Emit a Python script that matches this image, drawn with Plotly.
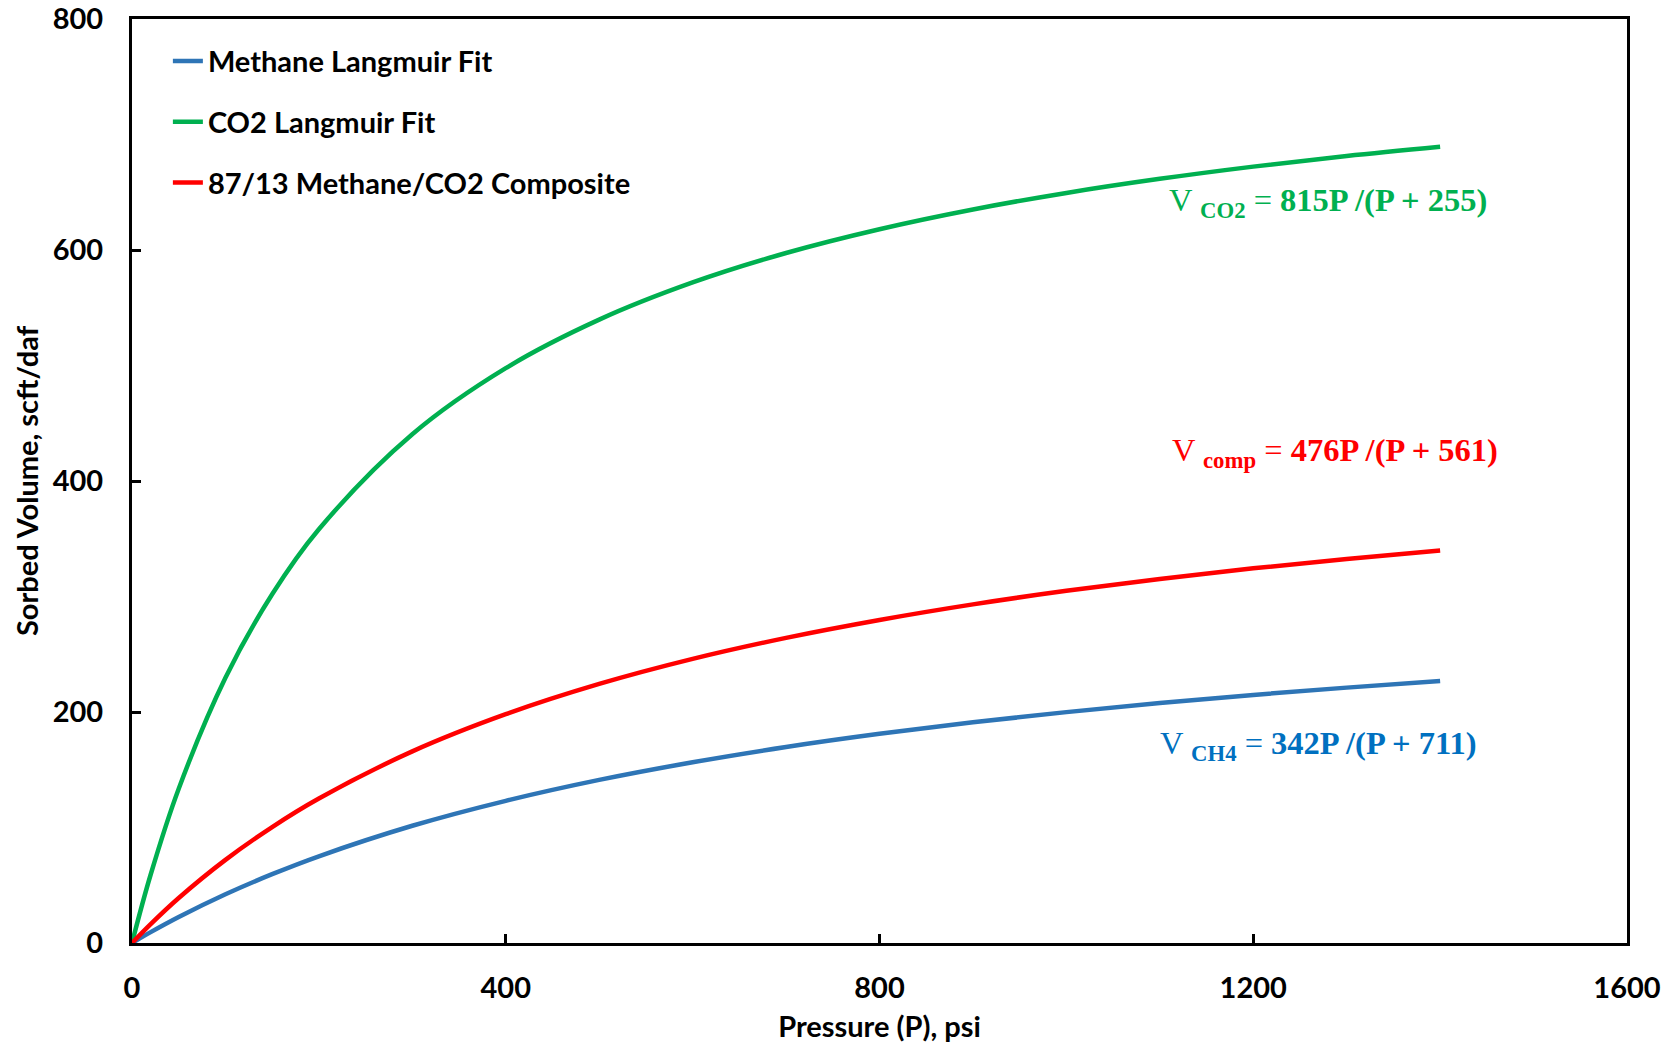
import plotly.graph_objects as go

# Pressure (psi) and sorbed volumes (scf/t, daf) along the Langmuir isotherms
pressure = [0, 20, 50, 100, 150, 200, 300, 400, 500, 600, 700, 800, 900, 1000, 1100, 1200, 1300, 1400]
methane = [0, 9.4, 22.5, 42.2, 59.6, 75.1, 101.5, 123.1, 141.2, 156.5, 169.7, 181.1, 191.1, 199.9, 207.7, 214.8, 221.1, 226.8]
co2 = [0, 59.3, 133.6, 229.6, 301.9, 358.2, 440.5, 497.7, 539.7, 571.9, 597.4, 618.0, 635.1, 649.4, 661.6, 672.2, 681.4, 689.4]
composite = [0, 16.4, 39.0, 72.0, 100.4, 125.1, 165.9, 198.1, 224.3, 246.0, 264.2, 279.7, 293.2, 304.9, 315.2, 324.4, 332.5, 339.8]

series_names = ["Methane Langmuir Fit", "CO2 Langmuir Fit", "87/13 Methane/CO2 Composite"]
series_colors = ["#2E75B6", "#00B050", "#FF0000"]

x_ticks = [0, 400, 800, 1200, 1600]
y_ticks = [0, 200, 400, 600, 800]

fit_labels = [
    ("V <b><sub>CO2</sub></b> = <b>815P /(P + 255)</b>", 1108, 641, "#00B050"),
    ("V <b><sub>comp</sub></b> = <b>476P /(P + 561)</b>", 1111, 425, "#FF0000"),
    ("V <b><sub>CH4</sub></b> = <b>342P /(P + 711)</b>", 1098, 171, "#0070C0"),
]

fig = go.Figure()
for i, (name, vals, color) in enumerate(zip(series_names, [methane, co2, composite], series_colors)):
    fig.add_trace(go.Scatter(
        x=pressure, y=vals, mode="lines", name=name, legendgroup=f"g{i}",
        line=dict(color=color, width=4.5, shape="spline"),
    ))

for text, x, y, color in fit_labels:
    fig.add_annotation(
        x=x, y=y, xref="x", yref="y", text=text, showarrow=False,
        xanchor="left", yanchor="middle",
        font=dict(family="Liberation Serif", size=32.5, color=color),
    )

axis_common = dict(
    showgrid=False, zeroline=False, showline=True, linecolor="black", linewidth=3,
    mirror=True, ticks="inside", ticklen=9, tickwidth=2.5, tickcolor="black",
    tickfont=dict(family="Lato", size=29, color="black", weight="bold"),
    automargin=False,
)

fig.update_layout(
    width=1666, height=1051,
    margin=dict(l=132, r=39, t=19, b=108),
    paper_bgcolor="white", plot_bgcolor="white",
    xaxis=dict(range=[0, 1600], tickvals=x_ticks, ticklabelstandoff=17,
               title=dict(text="<b>Pressure (P), psi</b>", font=dict(family="Lato", size=29, color="black"), standoff=14),
               **axis_common),
    yaxis=dict(range=[0, 800], tickvals=y_ticks, ticklabelstandoff=20,
               title=dict(text="<b>Sorbed Volume, scft/daf</b>", font=dict(family="Lato", size=29, color="black"), standoff=6),
               **axis_common),
    legend=dict(x=0.024, y=0.982, xanchor="left", yanchor="top",
                font=dict(family="Lato", size=29, color="black", weight="bold"),
                tracegroupgap=20, bgcolor="rgba(0,0,0,0)", itemwidth=30),
    showlegend=True,
)

fig.write_html("out.html")
